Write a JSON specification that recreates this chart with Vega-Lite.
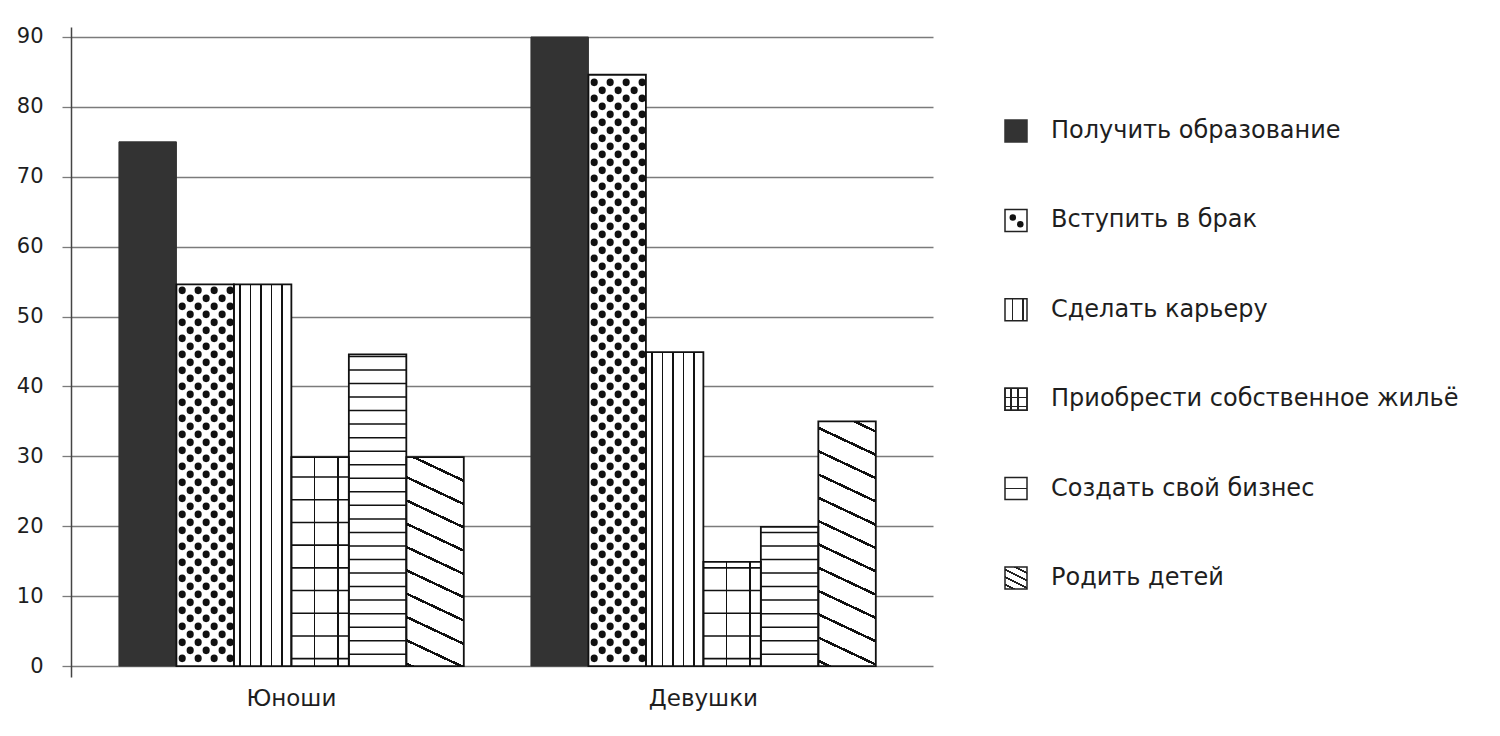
{
  "$schema": "https://vega.github.io/schema/vega-lite/v6.json",
  "background": "white",
  "padding": {"left": 16, "top": 25, "right": 5, "bottom": 5},
  "bounds": "flush",
  "spacing": 72,
  "config": {
    "view": {"stroke": null},
    "font": "DejaVu Sans"
  },
  "datasets": {
    "bars": [
      {"group": "Юноши", "category": "Получить образование", "value": 75},
      {"group": "Юноши", "category": "Вступить в брак", "value": 54.6},
      {"group": "Юноши", "category": "Сделать карьеру", "value": 54.6},
      {"group": "Юноши", "category": "Приобрести собственное жильё", "value": 29.9},
      {"group": "Юноши", "category": "Создать свой бизнес", "value": 44.6},
      {"group": "Юноши", "category": "Родить детей", "value": 29.9},
      {"group": "Девушки", "category": "Получить образование", "value": 90},
      {"group": "Девушки", "category": "Вступить в брак", "value": 84.6},
      {"group": "Девушки", "category": "Сделать карьеру", "value": 44.9},
      {"group": "Девушки", "category": "Приобрести собственное жильё", "value": 14.9},
      {"group": "Девушки", "category": "Создать свой бизнес", "value": 19.9},
      {"group": "Девушки", "category": "Родить детей", "value": 35}
    ],
    "legend": [
      {"category": "Получить образование"},
      {"category": "Вступить в брак"},
      {"category": "Сделать карьеру"},
      {"category": "Приобрести собственное жильё"},
      {"category": "Создать свой бизнес"},
      {"category": "Родить детей"}
    ]
  },
  "hconcat": [
    {
      "width": 862,
      "height": 650,
      "data": {"name": "bars"},
      "encoding": {
        "x": {
          "field": "group",
          "type": "nominal",
          "sort": ["Юноши", "Девушки"],
          "scale": {"paddingInner": 0.163, "paddingOuter": 0.1276, "align": 0.456},
          "axis": {
            "title": null,
            "domain": false,
            "ticks": false,
            "labelAngle": 0,
            "labelFontSize": 23,
            "labelColor": "#1e1e1e",
            "labelPadding": 10
          }
        },
        "y": {
          "field": "value",
          "type": "quantitative",
          "scale": {"domain": [-1.57, 91.43], "nice": false, "zero": false},
          "axis": {
            "title": null,
            "values": [0, 10, 20, 30, 40, 50, 60, 70, 80, 90],
            "grid": true,
            "gridColor": "#7b7b7b",
            "gridWidth": 1.3,
            "domainColor": "#444444",
            "domainWidth": 1.5,
            "tickColor": "#7b7b7b",
            "tickWidth": 1.3,
            "tickSize": 9,
            "labelFontSize": 21,
            "labelColor": "#1e1e1e",
            "labelPadding": 19
          }
        }
      },
      "layer": [
        {
          "transform": [{"filter": "datum.category === 'Получить образование'"}],
          "mark": {"type": "bar", "fill": "#333333", "stroke": "#333333", "strokeWidth": 1},
          "encoding": {
            "xOffset": {"field": "category", "type": "nominal", "sort": ["Получить образование", "Вступить в брак", "Сделать карьеру", "Приобрести собственное жильё", "Создать свой бизнес", "Родить детей"], "scale": {"paddingInner": 0, "paddingOuter": 0}},
            "y2": {"datum": 0}
          }
        },
        {
          "transform": [{"filter": "datum.category === 'Вступить в брак' || datum.category === 'Создать свой бизнес'"}],
          "mark": {"type": "bar", "fill": "#ffffff"},
          "encoding": {
            "xOffset": {"field": "category", "type": "nominal", "sort": ["Получить образование", "Вступить в брак", "Сделать карьеру", "Приобрести собственное жильё", "Создать свой бизнес", "Родить детей"], "scale": {"paddingInner": 0, "paddingOuter": 0}},
            "y2": {"datum": 0}
          }
        },
        {
          "transform": [{"filter": "datum.category === 'Сделать карьеру'"}],
          "mark": {
            "type": "bar",
            "fill": {
              "gradient": "linear", "x1": 0, "y1": 0, "x2": 1, "y2": 0,
              "stops": [
                {"offset": 0, "color": "#ffffff"},
                {"offset": 0.093, "color": "#ffffff"}, {"offset": 0.093, "color": "#111111"}, {"offset": 0.117, "color": "#111111"}, {"offset": 0.117, "color": "#ffffff"},
                {"offset": 0.278, "color": "#ffffff"}, {"offset": 0.278, "color": "#111111"}, {"offset": 0.302, "color": "#111111"}, {"offset": 0.302, "color": "#ffffff"},
                {"offset": 0.458, "color": "#ffffff"}, {"offset": 0.458, "color": "#111111"}, {"offset": 0.482, "color": "#111111"}, {"offset": 0.482, "color": "#ffffff"},
                {"offset": 0.638, "color": "#ffffff"}, {"offset": 0.638, "color": "#111111"}, {"offset": 0.662, "color": "#111111"}, {"offset": 0.662, "color": "#ffffff"},
                {"offset": 0.823, "color": "#ffffff"}, {"offset": 0.823, "color": "#111111"}, {"offset": 0.847, "color": "#111111"}, {"offset": 0.847, "color": "#ffffff"},
                {"offset": 1, "color": "#ffffff"}
              ]
            }
          },
          "encoding": {
            "xOffset": {"field": "category", "type": "nominal", "sort": ["Получить образование", "Вступить в брак", "Сделать карьеру", "Приобрести собственное жильё", "Создать свой бизнес", "Родить детей"], "scale": {"paddingInner": 0, "paddingOuter": 0}},
            "y2": {"datum": 0}
          }
        },
        {
          "transform": [{"filter": "datum.category === 'Приобрести собственное жильё'"}],
          "mark": {
            "type": "bar",
            "fill": {
              "gradient": "linear", "x1": 0, "y1": 0, "x2": 1, "y2": 0,
              "stops": [
                {"offset": 0, "color": "#ffffff"},
                {"offset": 0.392, "color": "#ffffff"}, {"offset": 0.392, "color": "#111111"}, {"offset": 0.418, "color": "#111111"}, {"offset": 0.418, "color": "#ffffff"},
                {"offset": 0.797, "color": "#ffffff"}, {"offset": 0.797, "color": "#111111"}, {"offset": 0.823, "color": "#111111"}, {"offset": 0.823, "color": "#ffffff"},
                {"offset": 1, "color": "#ffffff"}
              ]
            }
          },
          "encoding": {
            "xOffset": {"field": "category", "type": "nominal", "sort": ["Получить образование", "Вступить в брак", "Сделать карьеру", "Приобрести собственное жильё", "Создать свой бизнес", "Родить детей"], "scale": {"paddingInner": 0, "paddingOuter": 0}},
            "y2": {"datum": 0}
          }
        },
        {
          "transform": [{"filter": "datum.category === 'Родить детей' && datum.group === 'Юноши'"}],
          "mark": {
            "type": "bar",
            "fill": {
              "gradient": "linear", "x1": 1, "y1": 0, "x2": 0.85627, "y2": 1.11081,
              "stops": [
                {"offset": 0, "color": "#ffffff"},
                {"offset": 0.0948, "color": "#ffffff"}, {"offset": 0.0948, "color": "#111111"}, {"offset": 0.1065, "color": "#111111"}, {"offset": 0.1065, "color": "#ffffff"},
                {"offset": 0.1935, "color": "#ffffff"}, {"offset": 0.1935, "color": "#111111"}, {"offset": 0.2052, "color": "#111111"}, {"offset": 0.2052, "color": "#ffffff"},
                {"offset": 0.2922, "color": "#ffffff"}, {"offset": 0.2922, "color": "#111111"}, {"offset": 0.3039, "color": "#111111"}, {"offset": 0.3039, "color": "#ffffff"},
                {"offset": 0.3910, "color": "#ffffff"}, {"offset": 0.3910, "color": "#111111"}, {"offset": 0.4027, "color": "#111111"}, {"offset": 0.4027, "color": "#ffffff"},
                {"offset": 0.4897, "color": "#ffffff"}, {"offset": 0.4897, "color": "#111111"}, {"offset": 0.5014, "color": "#111111"}, {"offset": 0.5014, "color": "#ffffff"},
                {"offset": 0.5884, "color": "#ffffff"}, {"offset": 0.5884, "color": "#111111"}, {"offset": 0.6001, "color": "#111111"}, {"offset": 0.6001, "color": "#ffffff"},
                {"offset": 0.6871, "color": "#ffffff"}, {"offset": 0.6871, "color": "#111111"}, {"offset": 0.6988, "color": "#111111"}, {"offset": 0.6988, "color": "#ffffff"},
                {"offset": 0.7859, "color": "#ffffff"}, {"offset": 0.7859, "color": "#111111"}, {"offset": 0.7976, "color": "#111111"}, {"offset": 0.7976, "color": "#ffffff"},
                {"offset": 0.8846, "color": "#ffffff"}, {"offset": 0.8846, "color": "#111111"}, {"offset": 0.8963, "color": "#111111"}, {"offset": 0.8963, "color": "#ffffff"},
                {"offset": 0.9833, "color": "#ffffff"}, {"offset": 0.9833, "color": "#111111"}, {"offset": 0.9950, "color": "#111111"}, {"offset": 0.9950, "color": "#ffffff"},
                {"offset": 1, "color": "#ffffff"}
              ]
            }
          },
          "encoding": {
            "xOffset": {"field": "category", "type": "nominal", "sort": ["Получить образование", "Вступить в брак", "Сделать карьеру", "Приобрести собственное жильё", "Создать свой бизнес", "Родить детей"], "scale": {"paddingInner": 0, "paddingOuter": 0}},
            "y2": {"datum": 0}
          }
        },
        {
          "transform": [{"filter": "datum.category === 'Родить детей' && datum.group === 'Девушки'"}],
          "mark": {
            "type": "bar",
            "fill": {
              "gradient": "linear", "x1": 1, "y1": 0, "x2": 0.87871, "y2": 1.09716,
              "stops": [
                {"offset": 0, "color": "#ffffff"},
                {"offset": 0.0322, "color": "#ffffff"}, {"offset": 0.0322, "color": "#111111"}, {"offset": 0.0424, "color": "#111111"}, {"offset": 0.0424, "color": "#ffffff"},
                {"offset": 0.1180, "color": "#ffffff"}, {"offset": 0.1180, "color": "#111111"}, {"offset": 0.1282, "color": "#111111"}, {"offset": 0.1282, "color": "#ffffff"},
                {"offset": 0.2038, "color": "#ffffff"}, {"offset": 0.2038, "color": "#111111"}, {"offset": 0.2140, "color": "#111111"}, {"offset": 0.2140, "color": "#ffffff"},
                {"offset": 0.2896, "color": "#ffffff"}, {"offset": 0.2896, "color": "#111111"}, {"offset": 0.2998, "color": "#111111"}, {"offset": 0.2998, "color": "#ffffff"},
                {"offset": 0.3753, "color": "#ffffff"}, {"offset": 0.3753, "color": "#111111"}, {"offset": 0.3855, "color": "#111111"}, {"offset": 0.3855, "color": "#ffffff"},
                {"offset": 0.4611, "color": "#ffffff"}, {"offset": 0.4611, "color": "#111111"}, {"offset": 0.4713, "color": "#111111"}, {"offset": 0.4713, "color": "#ffffff"},
                {"offset": 0.5469, "color": "#ffffff"}, {"offset": 0.5469, "color": "#111111"}, {"offset": 0.5571, "color": "#111111"}, {"offset": 0.5571, "color": "#ffffff"},
                {"offset": 0.6327, "color": "#ffffff"}, {"offset": 0.6327, "color": "#111111"}, {"offset": 0.6429, "color": "#111111"}, {"offset": 0.6429, "color": "#ffffff"},
                {"offset": 0.7184, "color": "#ffffff"}, {"offset": 0.7184, "color": "#111111"}, {"offset": 0.7286, "color": "#111111"}, {"offset": 0.7286, "color": "#ffffff"},
                {"offset": 0.8042, "color": "#ffffff"}, {"offset": 0.8042, "color": "#111111"}, {"offset": 0.8144, "color": "#111111"}, {"offset": 0.8144, "color": "#ffffff"},
                {"offset": 0.8900, "color": "#ffffff"}, {"offset": 0.8900, "color": "#111111"}, {"offset": 0.9002, "color": "#111111"}, {"offset": 0.9002, "color": "#ffffff"},
                {"offset": 0.9758, "color": "#ffffff"}, {"offset": 0.9758, "color": "#111111"}, {"offset": 0.9860, "color": "#111111"}, {"offset": 0.9860, "color": "#ffffff"},
                {"offset": 1, "color": "#ffffff"}
              ]
            }
          },
          "encoding": {
            "xOffset": {"field": "category", "type": "nominal", "sort": ["Получить образование", "Вступить в брак", "Сделать карьеру", "Приобрести собственное жильё", "Создать свой бизнес", "Родить детей"], "scale": {"paddingInner": 0, "paddingOuter": 0}},
            "y2": {"datum": 0}
          }
        },
        {
          "transform": [{"filter": "datum.category === 'Приобрести собственное жильё'"}],
          "mark": {"type": "rule", "color": "#111111", "strokeWidth": 57.4, "strokeDash": [1.6, 21.1], "strokeDashOffset": 16.1},
          "encoding": {
            "x": {"field": "group", "type": "nominal", "bandPosition": 0.5833},
            "y": {"datum": 0, "type": "quantitative"},
            "y2": {"field": "value"}
          }
        },
        {
          "transform": [{"filter": "datum.category === 'Создать свой бизнес'"}],
          "mark": {"type": "rule", "color": "#111111", "strokeWidth": 57.4, "strokeDash": [1.5, 12.04], "strokeDashOffset": 2.54},
          "encoding": {
            "x": {"field": "group", "type": "nominal", "bandPosition": 0.75},
            "y": {"datum": 0, "type": "quantitative"},
            "y2": {"field": "value"}
          }
        },
        {
          "transform": [{"filter": "datum.category === 'Вступить в брак'"}],
          "mark": {"type": "rule", "color": "#111111", "strokeWidth": 7.1, "strokeCap": "round", "strokeDash": [0.5, 15.5], "strokeDashOffset": 8.55},
          "encoding": {
            "x": {"field": "group", "type": "nominal", "bandPosition": 0.1834},
            "y": {"datum": 0, "type": "quantitative"},
            "y2": {"field": "value"}
          }
        },
        {
          "transform": [{"filter": "datum.category === 'Вступить в брак'"}],
          "mark": {"type": "rule", "color": "#111111", "strokeWidth": 7.1, "strokeCap": "round", "strokeDash": [0.5, 15.5], "strokeDashOffset": 0.55},
          "encoding": {
            "x": {"field": "group", "type": "nominal", "bandPosition": 0.2066},
            "y": {"datum": 0, "type": "quantitative"},
            "y2": {"field": "value"}
          }
        },
        {
          "transform": [{"filter": "datum.category === 'Вступить в брак'"}],
          "mark": {"type": "rule", "color": "#111111", "strokeWidth": 7.1, "strokeCap": "round", "strokeDash": [0.5, 15.5], "strokeDashOffset": 8.55},
          "encoding": {
            "x": {"field": "group", "type": "nominal", "bandPosition": 0.2297},
            "y": {"datum": 0, "type": "quantitative"},
            "y2": {"field": "value"}
          }
        },
        {
          "transform": [{"filter": "datum.category === 'Вступить в брак'"}],
          "mark": {"type": "rule", "color": "#111111", "strokeWidth": 7.1, "strokeCap": "round", "strokeDash": [0.5, 15.5], "strokeDashOffset": 0.55},
          "encoding": {
            "x": {"field": "group", "type": "nominal", "bandPosition": 0.2529},
            "y": {"datum": 0, "type": "quantitative"},
            "y2": {"field": "value"}
          }
        },
        {
          "transform": [{"filter": "datum.category === 'Вступить в брак'"}],
          "mark": {"type": "rule", "color": "#111111", "strokeWidth": 7.1, "strokeCap": "round", "strokeDash": [0.5, 15.5], "strokeDashOffset": 8.55},
          "encoding": {
            "x": {"field": "group", "type": "nominal", "bandPosition": 0.2761},
            "y": {"datum": 0, "type": "quantitative"},
            "y2": {"field": "value"}
          }
        },
        {
          "transform": [{"filter": "datum.category === 'Вступить в брак'"}],
          "mark": {"type": "rule", "color": "#111111", "strokeWidth": 7.1, "strokeCap": "round", "strokeDash": [0.5, 15.5], "strokeDashOffset": 0.55},
          "encoding": {
            "x": {"field": "group", "type": "nominal", "bandPosition": 0.2992},
            "y": {"datum": 0, "type": "quantitative"},
            "y2": {"field": "value"}
          }
        },
        {
          "transform": [{"filter": "datum.category === 'Вступить в брак'"}],
          "mark": {"type": "rule", "color": "#111111", "strokeWidth": 7.1, "strokeCap": "round", "strokeDash": [0.5, 15.5], "strokeDashOffset": 8.55},
          "encoding": {
            "x": {"field": "group", "type": "nominal", "bandPosition": 0.3224},
            "y": {"datum": 0, "type": "quantitative"},
            "y2": {"field": "value"}
          }
        },
        {
          "transform": [{"filter": "datum.category !== 'Получить образование'"}],
          "mark": {"type": "bar", "fill": "#ffffff", "fillOpacity": 0, "stroke": "#111111", "strokeWidth": 1.8},
          "encoding": {
            "xOffset": {"field": "category", "type": "nominal", "sort": ["Получить образование", "Вступить в брак", "Сделать карьеру", "Приобрести собственное жильё", "Создать свой бизнес", "Родить детей"], "scale": {"paddingInner": 0, "paddingOuter": 0}},
            "y2": {"datum": 0}
          }
        }
      ]
    },
    {
      "width": 22,
      "height": 650,
      "data": {"name": "legend"},
      "encoding": {
        "y": {
          "field": "category",
          "type": "nominal",
          "sort": ["Получить образование", "Вступить в брак", "Сделать карьеру", "Приобрести собственное жильё", "Создать свой бизнес", "Родить детей"],
          "scale": {"type": "point", "padding": 0, "range": [104, 551]},
          "axis": null
        }
      },
      "layer": [
        {
          "transform": [{"filter": "datum.category === 'Получить образование'"}],
          "mark": {"type": "point", "shape": "square", "size": 484, "filled": true, "fill": "#333333", "stroke": "#333333", "strokeWidth": 1.5, "opacity": 1}
        },
        {
          "transform": [{"filter": "datum.category === 'Вступить в брак'"}],
          "mark": {"type": "point", "shape": "square", "size": 484, "filled": true, "fill": "#ffffff", "stroke": "#222222", "strokeWidth": 1.5, "opacity": 1}
        },
        {
          "transform": [{"filter": "datum.category === 'Сделать карьеру'"}],
          "mark": {
            "type": "point", "shape": "square", "size": 484, "filled": true, "stroke": "#222222", "strokeWidth": 1.5, "opacity": 1,
            "fill": {
              "gradient": "linear", "x1": 0, "y1": 0, "x2": 1, "y2": 0,
              "stops": [
                {"offset": 0, "color": "#ffffff"},
                {"offset": 0.305, "color": "#ffffff"}, {"offset": 0.305, "color": "#222222"}, {"offset": 0.375, "color": "#222222"}, {"offset": 0.375, "color": "#ffffff"},
                {"offset": 0.785, "color": "#ffffff"}, {"offset": 0.785, "color": "#222222"}, {"offset": 0.855, "color": "#222222"}, {"offset": 0.855, "color": "#ffffff"},
                {"offset": 1, "color": "#ffffff"}
              ]
            }
          }
        },
        {
          "transform": [{"filter": "datum.category === 'Приобрести собственное жильё'"}],
          "mark": {
            "type": "point", "shape": "square", "size": 484, "filled": true, "stroke": "#222222", "strokeWidth": 1.5, "opacity": 1,
            "fill": {
              "gradient": "linear", "x1": 0, "y1": 0, "x2": 1, "y2": 0,
              "stops": [
                {"offset": 0, "color": "#ffffff"},
                {"offset": 0.245, "color": "#ffffff"}, {"offset": 0.245, "color": "#222222"}, {"offset": 0.315, "color": "#222222"}, {"offset": 0.315, "color": "#ffffff"},
                {"offset": 0.545, "color": "#ffffff"}, {"offset": 0.545, "color": "#222222"}, {"offset": 0.615, "color": "#222222"}, {"offset": 0.615, "color": "#ffffff"},
                {"offset": 1, "color": "#ffffff"}
              ]
            }
          }
        },
        {
          "transform": [{"filter": "datum.category === 'Приобрести собственное жильё'"}],
          "mark": {
            "type": "point", "shape": "square", "size": 484, "filled": true, "stroke": "#222222", "strokeWidth": 1.5, "opacity": 1,
            "fill": {
              "gradient": "linear", "x1": 0, "y1": 0, "x2": 0, "y2": 1,
              "stops": [
                {"offset": 0, "color": "rgba(255,255,255,0)"},
                {"offset": 0.385, "color": "rgba(255,255,255,0)"}, {"offset": 0.385, "color": "#222222"}, {"offset": 0.455, "color": "#222222"}, {"offset": 0.455, "color": "rgba(255,255,255,0)"},
                {"offset": 0.795, "color": "rgba(255,255,255,0)"}, {"offset": 0.795, "color": "#222222"}, {"offset": 0.865, "color": "#222222"}, {"offset": 0.865, "color": "rgba(255,255,255,0)"},
                {"offset": 1, "color": "rgba(255,255,255,0)"}
              ]
            }
          }
        },
        {
          "transform": [{"filter": "datum.category === 'Создать свой бизнес'"}],
          "mark": {
            "type": "point", "shape": "square", "size": 484, "filled": true, "stroke": "#222222", "strokeWidth": 1.5, "opacity": 1,
            "fill": {
              "gradient": "linear", "x1": 0, "y1": 0, "x2": 0, "y2": 1,
              "stops": [
                {"offset": 0, "color": "#ffffff"},
                {"offset": 0.455, "color": "#ffffff"}, {"offset": 0.455, "color": "#222222"}, {"offset": 0.525, "color": "#222222"}, {"offset": 0.525, "color": "#ffffff"},
                {"offset": 1, "color": "#ffffff"}
              ]
            }
          }
        },
        {
          "transform": [{"filter": "datum.category === 'Родить детей'"}],
          "mark": {
            "type": "point", "shape": "square", "size": 484, "filled": true, "stroke": "#222222", "strokeWidth": 1.5, "opacity": 1,
            "fill": {
              "gradient": "linear", "x1": 1, "y1": 0, "x2": 0.4, "y2": 1.2,
              "stops": [
                {"offset": 0, "color": "#ffffff"},
                {"offset": 0.156, "color": "#ffffff"}, {"offset": 0.156, "color": "#222222"}, {"offset": 0.207, "color": "#222222"}, {"offset": 0.207, "color": "#ffffff"},
                {"offset": 0.384, "color": "#ffffff"}, {"offset": 0.384, "color": "#222222"}, {"offset": 0.435, "color": "#222222"}, {"offset": 0.435, "color": "#ffffff"},
                {"offset": 0.611, "color": "#ffffff"}, {"offset": 0.611, "color": "#222222"}, {"offset": 0.662, "color": "#222222"}, {"offset": 0.662, "color": "#ffffff"},
                {"offset": 0.838, "color": "#ffffff"}, {"offset": 0.838, "color": "#222222"}, {"offset": 0.889, "color": "#222222"}, {"offset": 0.889, "color": "#ffffff"},
                {"offset": 1, "color": "#ffffff"}
              ]
            }
          }
        },
        {
          "transform": [{"filter": "datum.category === 'Вступить в брак'"}],
          "mark": {"type": "point", "shape": "circle", "size": 42, "filled": true, "color": "#111111", "opacity": 1, "xOffset": -3.2, "yOffset": -3}
        },
        {
          "transform": [{"filter": "datum.category === 'Вступить в брак'"}],
          "mark": {"type": "point", "shape": "circle", "size": 42, "filled": true, "color": "#111111", "opacity": 1, "xOffset": 4.3, "yOffset": 3.9}
        },
        {
          "mark": {"type": "text", "align": "left", "baseline": "middle", "dx": 35, "fontSize": 24, "color": "#1e1e1e"},
          "encoding": {"text": {"field": "category"}}
        }
      ]
    }
  ]
}
